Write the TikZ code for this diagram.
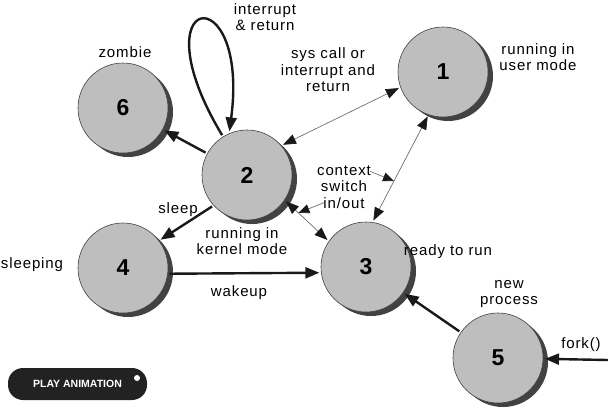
\documentclass[tikz,border=0pt]{standalone}
\usepackage{fontspec}
\setmainfont{Liberation Sans}[LetterSpace=6]
\newfontfamily\buttonfont{Liberation Sans}
\usetikzlibrary{arrows.meta,shadows}
\definecolor{stategray}{RGB}{190,190,190}
\definecolor{shadegray}{RGB}{66,66,66}
\definecolor{wiregray}{RGB}{110,110,110}
\definecolor{buttonblack}{RGB}{34,34,34}

\begin{document}
\begin{tikzpicture}[
  x=1pt,y=-1pt,
  state/.style={circle,draw=shadegray,line width=.6pt,fill=stategray,minimum size=90pt,inner sep=0pt,outer sep=2pt,
    drop shadow={shadow xshift=5pt,shadow yshift=-4pt,fill=shadegray,opacity=1},
    font=\fontsize{23}{23}\selectfont\bfseries},
  lbl/.style={align=center,inner sep=1pt,font=\fontsize{15}{16.5}\selectfont},
  heavy/.style={line width=2.4pt,draw=black!90,-{Triangle[length=14pt,width=11pt]}},
  wire/.style={line width=.7pt,draw=wiregray,
    {Triangle[length=13pt,width=10pt,color=black!90]}-{Triangle[length=13pt,width=10pt,color=black!90]}},
  pointer/.style={line width=.7pt,draw=wiregray,-{Triangle[length=11pt,width=9pt,color=black!90]}},
  playbtn/.style={fill=buttonblack,rounded corners=15pt,minimum width=139pt,minimum height=32pt,
    text=white,font=\buttonfont\fontsize{10.5}{12}\selectfont\bfseries}
]
  \useasboundingbox (0,0) rectangle (608,408);

  \node[state] (s6) at (123,108) {6};
  \node[state] (s2) at (247,175) {2};
  \node[state] (s1) at (443,72) {1};
  \node[state] (s4) at (123,268) {4};
  \node[state] (s3) at (366,267) {3};
  \node[state] (s5) at (498,358) {5};

  \node[lbl] (zombie) at (125,52) {zombie};
  \node[lbl] (selfret) at (265,17) {interrupt\\\& return};
  \node[lbl] (syscall) at (328,70) {sys call or\\interrupt and\\return};
  \node[lbl] (usermode) at (538,57) {running in\\user mode};
  \node[lbl] (ctx) at (344,187) {context\\switch\\in/out};
  \node[lbl] (sleep) at (178,210) {sleep};
  \node[lbl] (kernelmode) at (242,241) {running in\\kernel mode};
  \node[lbl] (sleeping) at (32,265) {sleeping};
  \node[lbl] (ready) at (448,252) {ready to run};
  \node[lbl] (wakeup) at (239,293) {wakeup};
  \node[lbl] (newproc) at (509,294) {new\\process};
  \node[lbl] (fork) at (581,345) {fork()};

  \coordinate (forkin) at (608,360);

  \draw[heavy] (s2.122) .. controls (135,-10) and (250,-25) .. (s2.112);
  \draw[heavy] (s2) -- (s6);
  \draw[heavy] (s2.222) -- (s4.37);
  \draw[heavy] (s4.-7) -- (s3.187);
  \draw[heavy] (s5) -- (s3);
  \draw[heavy] (forkin) -- (s5);

  \draw[wire] (s2.40) -- (s1.200);
  \draw[wire] (s1.251) -- (s3.81);
  \draw[wire] (s2.326) -- (s3.145);

  \path (s1.251) -- coordinate[pos=.62] (ctxa) (s3.81);
  \path (s2.326) -- coordinate[pos=.3] (ctxb) (s3.145);
  \draw[pointer] ([xshift=-2pt,yshift=-7pt]ctx.north east) -- (ctxa);
  \draw[pointer] ([xshift=-20pt,yshift=7pt]ctx.south) -- (ctxb);

  \node[playbtn] (play) at (77.5,384) {PLAY ANIMATION};
  \fill[white] (137,378) circle (3pt);
\end{tikzpicture}
\end{document}
